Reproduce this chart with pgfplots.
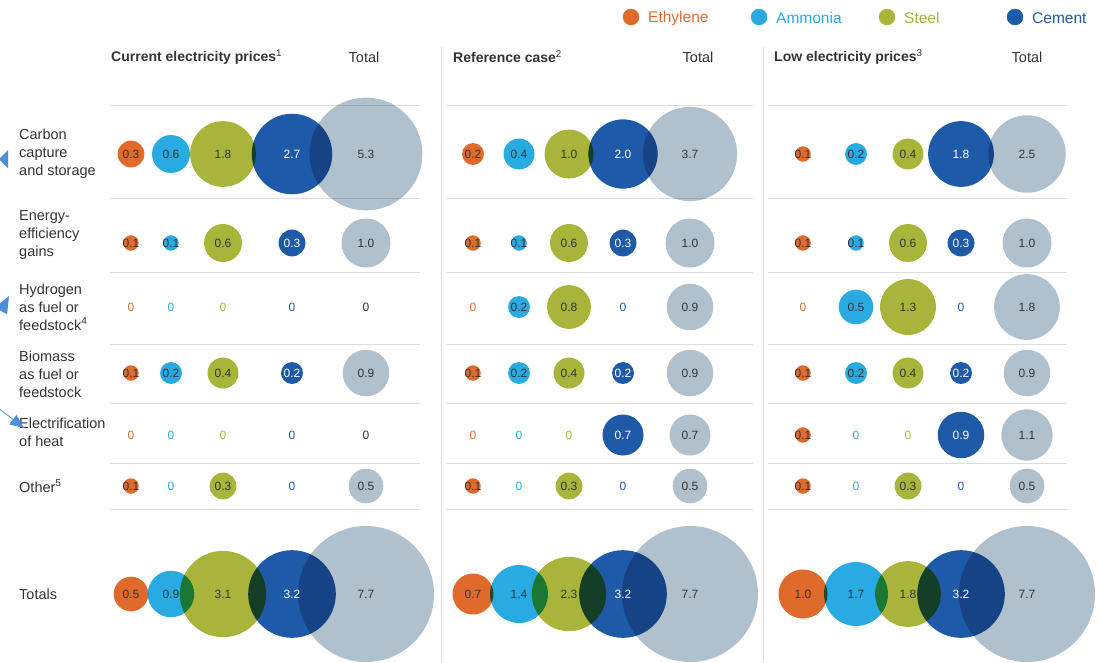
\documentclass[border=0pt]{standalone}
\usepackage{pgfplots}
\pgfplotsset{compat=1.18}
\usepackage{pgfplotstable}
\usepackage{fontspec}
\setmainfont{Liberation Sans}
\definecolor{eth}{HTML}{E06A2B}
\definecolor{amm}{HTML}{29ABE2}
\definecolor{stl}{HTML}{A9B43A}
\definecolor{cem}{HTML}{1F5AA8}
\definecolor{tot}{HTML}{B0C0CC}
\definecolor{txt}{HTML}{333333}
\definecolor{rulec}{HTML}{DDDDDD}
\definecolor{arrc}{HTML}{4C8FD6}

% columns: x = column centre (px), y = row centre (px), v = value
% rows: CCS, Energy efficiency, Hydrogen, Biomass, Electrification, Other, Totals
\pgfplotstableread{
x y v
131 154 0.3
131 243 0.1
131 307 0
131 373 0.1
131 435 0
131 486 0.1
131 594 0.5
473 154 0.2
473 243 0.1
473 307 0
473 373 0.1
473 435 0
473 486 0.1
473 594 0.7
803 154 0.1
803 243 0.1
803 307 0
803 373 0.1
803 435 0.1
803 486 0.1
803 594 1.0
}\ethylene
\pgfplotstableread{
x y v
171 154 0.6
171 243 0.1
171 307 0
171 373 0.2
171 435 0
171 486 0
171 594 0.9
519 154 0.4
519 243 0.1
519 307 0.2
519 373 0.2
519 435 0
519 486 0
519 594 1.4
856 154 0.2
856 243 0.1
856 307 0.5
856 373 0.2
856 435 0
856 486 0
856 594 1.7
}\ammonia
\pgfplotstableread{
x y v
223 154 1.8
223 243 0.6
223 307 0
223 373 0.4
223 435 0
223 486 0.3
223 594 3.1
569 154 1.0
569 243 0.6
569 307 0.8
569 373 0.4
569 435 0
569 486 0.3
569 594 2.3
908 154 0.4
908 243 0.6
908 307 1.3
908 373 0.4
908 435 0
908 486 0.3
908 594 1.8
}\steel
\pgfplotstableread{
x y v
292 154 2.7
292 243 0.3
292 307 0
292 373 0.2
292 435 0
292 486 0
292 594 3.2
623 154 2.0
623 243 0.3
623 307 0
623 373 0.2
623 435 0.7
623 486 0
623 594 3.2
961 154 1.8
961 243 0.3
961 307 0
961 373 0.2
961 435 0.9
961 486 0
961 594 3.2
}\cement
\pgfplotstableread{
x y v
366 154 5.3
366 243 1.0
366 307 0
366 373 0.9
366 435 0
366 486 0.5
366 594 7.7
690 154 3.7
690 243 1.0
690 307 0.9
690 373 0.9
690 435 0.7
690 486 0.5
690 594 7.7
1027 154 2.5
1027 243 1.0
1027 307 1.8
1027 373 0.9
1027 435 1.1
1027 486 0.5
1027 594 7.7
}\total

\pgfplotsset{
  bubble/.style={
    only marks, mark=*, scatter, point meta=\thisrow{v},
    /tikz/blend mode=multiply,
    mark options={draw opacity=0, fill=#1, blend mode=multiply},
    scatter/use mapped color={draw opacity=0, fill=#1},
    visualization depends on={24.5*sqrt(\thisrow{v}) \as \rad},
    scatter/@pre marker code/.append style={/tikz/mark size=\rad, /tikz/draw opacity=0, /tikz/blend mode=multiply},
    x filter/.expression={\thisrow{v}>0 ? x : nan},
    unbounded coords=discard, filter discard warning=false,
    forget plot,
  },
  vallab/.style={
    only marks, mark=none, point meta=\thisrow{v},
    x filter/.expression={\thisrow{v}>0 ? x : nan},
    unbounded coords=discard, filter discard warning=false,
    nodes near coords={\pgfmathprintnumber[fixed,fixed zerofill,precision=1,assume math mode=true]{\pgfplotspointmeta}},
    nodes near coords align=center,
    every node near coord/.append style={font=\fontsize{12}{12}\selectfont, text=#1, inner sep=0pt, anchor=center},
    forget plot,
  },
  zerolab/.style={
    only marks, mark=none, point meta=\thisrow{v},
    x filter/.expression={\thisrow{v}>0 ? nan : x},
    unbounded coords=discard, filter discard warning=false,
    nodes near coords={0},
    nodes near coords align=center,
    every node near coord/.append style={font=\fontsize{12}{12}\selectfont, text=#1, inner sep=0pt, anchor=center},
    forget plot,
  },
}

\newcommand{\rowfont}{\fontsize{14.5}{18}\selectfont}
\newcommand{\hdfont}{\fontsize{14}{16}\selectfont\bfseries}
\newcommand{\totfont}{\fontsize{14.5}{16}\selectfont}
\newcommand{\legfont}{\fontsize{15.5}{16}\selectfont}

\begin{document}
\begin{tikzpicture}
\begin{axis}[
  scale only axis, width=1100pt, height=662pt,
  xmin=0, xmax=1100, ymin=0, ymax=662, y dir=reverse,
  hide axis, clip=true,
]
% grid rules
\draw[rulec, line width=1pt] (axis cs:441,47) -- (axis cs:441,662);
\draw[rulec, line width=1pt] (axis cs:763,47) -- (axis cs:763,662);
\pgfplotsinvokeforeach{105,198,272,344,403,463,509}{
  \draw[rulec, line width=1pt] (axis cs:110,#1) -- (axis cs:420,#1);
  \draw[rulec, line width=1pt] (axis cs:446,#1) -- (axis cs:753,#1);
  \draw[rulec, line width=1pt] (axis cs:768,#1) -- (axis cs:1067,#1);
}

% bubbles
\addplot[bubble=eth] table[x=x,y=y] {\ethylene};
\addplot[bubble=amm] table[x=x,y=y] {\ammonia};
\addplot[bubble=stl] table[x=x,y=y] {\steel};
\addplot[bubble=cem] table[x=x,y=y] {\cement};
\addplot[bubble=tot] table[x=x,y=y] {\total};
% value labels
\addplot[vallab=txt] table[x=x,y=y] {\ethylene};
\addplot[vallab=txt] table[x=x,y=y] {\ammonia};
\addplot[vallab=txt] table[x=x,y=y] {\steel};
\addplot[vallab=white] table[x=x,y=y] {\cement};
\addplot[vallab=txt] table[x=x,y=y] {\total};
% zero labels
\addplot[zerolab=eth] table[x=x,y=y] {\ethylene};
\addplot[zerolab=amm] table[x=x,y=y] {\ammonia};
\addplot[zerolab=stl] table[x=x,y=y] {\steel};
\addplot[zerolab=cem] table[x=x,y=y] {\cement};
\addplot[zerolab=txt] table[x=x,y=y] {\total};

% legend
\addplot[only marks, mark=*, mark size=8, color=eth, forget plot] coordinates {(631,17)};
\addplot[only marks, mark=*, mark size=8, color=amm, forget plot] coordinates {(759,17)};
\addplot[only marks, mark=*, mark size=8, color=stl, forget plot] coordinates {(887,17)};
\addplot[only marks, mark=*, mark size=8, color=cem, forget plot] coordinates {(1015,17)};
\node[anchor=west, text=eth, font=\legfont, inner sep=0pt] at (axis cs:648,18) {Ethylene};
\node[anchor=west, text=amm, font=\legfont, inner sep=0pt] at (axis cs:776,18) {Ammonia};
\node[anchor=west, text=stl, font=\legfont, inner sep=0pt] at (axis cs:904,18) {Steel};
\node[anchor=west, text=cem, font=\legfont, inner sep=0pt] at (axis cs:1032,18) {Cement};

% headers
\node[anchor=west, text=txt, font=\hdfont, inner sep=0pt] at (axis cs:111,57) {Current electricity prices\textsuperscript{\normalfont 1}};
\node[text=txt, font=\totfont, inner sep=0pt] at (axis cs:364,57) {Total};
\node[anchor=west, text=txt, font=\hdfont, inner sep=0pt] at (axis cs:453,57) {Reference case\textsuperscript{\normalfont 2}};
\node[text=txt, font=\totfont, inner sep=0pt] at (axis cs:698,57) {Total};
\node[anchor=west, text=txt, font=\hdfont, inner sep=0pt] at (axis cs:774,57) {Low electricity prices\textsuperscript{\normalfont 3}};
\node[text=txt, font=\totfont, inner sep=0pt] at (axis cs:1027,57) {Total};

% row labels
\node[anchor=west, align=left, text=txt, font=\rowfont, inner sep=0pt] at (axis cs:19,154) {Carbon\\capture\\and storage};
\node[anchor=west, align=left, text=txt, font=\rowfont, inner sep=0pt] at (axis cs:19,235) {Energy-\\efficiency\\gains};
\node[anchor=west, align=left, text=txt, font=\rowfont, inner sep=0pt] at (axis cs:19,307) {Hydrogen\\as fuel or\\feedstock\textsuperscript{4}};
\node[anchor=west, align=left, text=txt, font=\rowfont, inner sep=0pt] at (axis cs:19,374) {Biomass\\as fuel or\\feedstock};
\node[anchor=west, align=left, text=txt, font=\rowfont, inner sep=0pt] at (axis cs:19,432) {Electrification\\of heat};
\node[anchor=west, align=left, text=txt, font=\rowfont, inner sep=0pt] at (axis cs:19,486) {Other\textsuperscript{5}};
\node[anchor=west, align=left, text=txt, font=\rowfont, inner sep=0pt] at (axis cs:19,594) {Totals};

% annotation arrows at the left edge
\fill[arrc] (axis cs:-1,159) -- (axis cs:8,150) -- (axis cs:8,168) -- cycle;
\draw[arrc, line width=0.8pt] (axis cs:-12,330) -- (axis cs:3,305);
\fill[arrc] (axis cs:9,296) -- (axis cs:7.1,314.4) -- (axis cs:-5.1,307.4) -- cycle;
\draw[arrc, line width=0.8pt] (axis cs:-2,408) -- (axis cs:14,420);
\fill[arrc] (axis cs:24,428) -- (axis cs:9.2,424.4) -- (axis cs:16.4,414.8) -- cycle;
\end{axis}
\pgfresetboundingbox
\path (current axis.south west) rectangle (current axis.north east);
\end{tikzpicture}
\end{document}
